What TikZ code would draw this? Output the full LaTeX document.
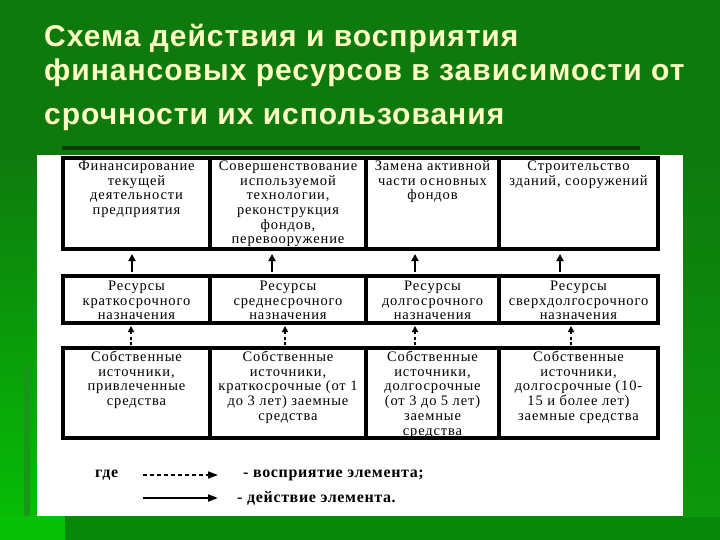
\documentclass[tikz,border=0pt]{standalone}
\usepackage{fontspec}
\setmainfont{Liberation Serif}
\newfontfamily\titlefont[LetterSpace=3.3]{Liberation Sans}
\newfontfamily\cellfont[LetterSpace=6]{Liberation Serif}
\newfontfamily\legfont[LetterSpace=4]{Liberation Serif}
\usetikzlibrary{arrows.meta}
\definecolor{bgtop}{RGB}{14,122,14}
\definecolor{bgleft}{RGB}{6,192,6}
\definecolor{bgband}{RGB}{24,150,24}
\definecolor{bgright}{RGB}{12,152,12}
\definecolor{bgbottom}{RGB}{8,136,8}
\definecolor{titleyellow}{RGB}{255,255,196}
\definecolor{shadowgreen}{RGB}{12,58,12}
\begin{document}
\begin{tikzpicture}[x=1pt,y=-1pt,
  cellbox/.style={rectangle, inner sep=0pt, outer sep=0pt, anchor=north west},
  celltext/.style={anchor=north, align=center, inner sep=0pt, font=\cellfont\fontsize{14.5}{14.7}\selectfont},
  border/.style={line width=3.6pt},
  act/.style={line width=2pt, -{Triangle[length=7pt,width=7pt]}, shorten <=4pt, shorten >=5pt},
  perc/.style={line width=1.6pt, dash pattern=on 3pt off 2.5pt, -{Triangle[length=6pt,width=6pt]}, shorten <=3pt, shorten >=3pt},
  legact/.style={line width=2pt, -{Triangle[length=10pt,width=7pt]}},
  legperc/.style={line width=1.6pt, dash pattern=on 4pt off 3pt, -{Triangle[length=10pt,width=7pt]}},
  legtext/.style={anchor=west, inner sep=0pt, font=\legfont\bfseries\fontsize{16}{18}\selectfont}
]
\useasboundingbox (0,0) rectangle (720,540);
% background
\fill[bgtop] (0,0) rectangle (720,540);
\shade[top color=bgtop, bottom color=bgleft] (0,150) rectangle (37,540);
\fill[bgband] (24,365) rectangle (30,540);
\fill[bgbottom] (65,516) rectangle (720,540);
\fill[bgleft] (0,516) rectangle (65,540);
\shade[top color=bgtop, bottom color=bgright] (683,150) rectangle (720,516);
\fill[shadowgreen] (62,146) rectangle (640,150);
\fill[white] (37,155) rectangle (683,516);

% title
\node[anchor=north west, inner sep=0pt, align=left, text=titleyellow,
      font=\titlefont\bfseries\fontsize{30}{34}\selectfont] (title) at (44,24)
  {Схема действия и восприятия\\финансовых ресурсов в зависимости от\\[10pt]срочности их использования};

% cells
\node[cellbox, minimum width=147pt, minimum height=91pt] (t1) at (63,158) {};
\node[cellbox, minimum width=156pt, minimum height=91pt] (t2) at (210,158) {};
\node[cellbox, minimum width=133pt, minimum height=91pt] (t3) at (366,158) {};
\node[cellbox, minimum width=159pt, minimum height=91pt] (t4) at (499,158) {};
\node[cellbox, minimum width=147pt, minimum height=47pt] (m1) at (63,276) {};
\node[cellbox, minimum width=156pt, minimum height=47pt] (m2) at (210,276) {};
\node[cellbox, minimum width=133pt, minimum height=47pt] (m3) at (366,276) {};
\node[cellbox, minimum width=159pt, minimum height=47pt] (m4) at (499,276) {};
\node[cellbox, minimum width=147pt, minimum height=90pt] (b1) at (63,348) {};
\node[cellbox, minimum width=156pt, minimum height=90pt] (b2) at (210,348) {};
\node[cellbox, minimum width=133pt, minimum height=90pt] (b3) at (366,348) {};
\node[cellbox, minimum width=159pt, minimum height=90pt] (b4) at (499,348) {};

% texts
\node[celltext] (t1x) at ([yshift=-2pt]t1.north) {\strut Финансирование\\текущей\\деятельности\\предприятия};
\node[celltext] (t2x) at ([yshift=-2pt]t2.north) {\strut Совершенствование\\используемой\\технологии,\\реконструкция\\фондов,\\перевооружение};
\node[celltext] (t3x) at ([yshift=-2pt]t3.north) {\strut Замена активной\\части основных\\фондов};
\node[celltext] (t4x) at ([yshift=-2pt]t4.north) {\strut Строительство\\зданий, сооружений};
\node[celltext] (m1x) at ([yshift=-4pt]m1.north) {\strut Ресурсы\\краткосрочного\\назначения};
\node[celltext] (m2x) at ([yshift=-4pt]m2.north) {\strut Ресурсы\\среднесрочного\\назначения};
\node[celltext] (m3x) at ([yshift=-4pt]m3.north) {\strut Ресурсы\\долгосрочного\\назначения};
\node[celltext] (m4x) at ([yshift=-4pt]m4.north) {\strut Ресурсы\\сверхдолгосрочного\\назначения};
\node[celltext] (b1x) at ([yshift=-3pt]b1.north) {\strut Собственные\\источники,\\привлеченные\\средства};
\node[celltext] (b2x) at ([yshift=-3pt]b2.north) {\strut Собственные\\источники,\\краткосрочные (от 1\\до 3 лет) заемные\\средства};
\node[celltext] (b3x) at ([yshift=-3pt]b3.north) {\strut Собственные\\источники,\\долгосрочные\\(от 3 до 5 лет)\\заемные\\средства};
\node[celltext] (b4x) at ([yshift=-3pt]b4.north) {\strut Собственные\\источники,\\долгосрочные (10-\\15 и более лет)\\заемные средства};

% borders
\foreach \c in {t1,t2,t3,t4,m1,m2,m3,m4,b1,b2,b3,b4}
  \draw[border] (\c.north west) rectangle (\c.south east);

% action arrows (middle -> top)
\draw[act] ([xshift=-4.5pt]m1.north) -- ([xshift=-4.5pt]t1.south);
\draw[act] ([xshift=-16pt]m2.north) -- ([xshift=-16pt]t2.south);
\draw[act] ([xshift=-17.5pt]m3.north) -- ([xshift=-17.5pt]t3.south);
\draw[act] ([xshift=-18.5pt]m4.north) -- ([xshift=-18.5pt]t4.south);
% perception arrows (bottom -> middle)
\draw[perc] ([xshift=-5.5pt]b1.north) -- ([xshift=-5.5pt]m1.south);
\draw[perc] ([xshift=-3pt]b2.north) -- ([xshift=-3pt]m2.south);
\draw[perc] ([xshift=-17.5pt]b3.north) -- ([xshift=-17.5pt]m3.south);
\draw[perc] ([xshift=-7.5pt]b4.north) -- ([xshift=-7.5pt]m4.south);

% legend
\node[legtext] (where) at (95,475) {где};
\coordinate (l1s) at (143,475);
\coordinate (l1e) at (218,475);
\coordinate (l2s) at (143,498);
\coordinate (l2e) at (218,498);
\draw[legperc] (l1s) -- (l1e);
\draw[legact] (l2s) -- (l2e);
\node[legtext] (perctext) at (243,475) {- восприятие элемента;};
\node[legtext] (acttext) at (237,498) {- действие элемента.};
\end{tikzpicture}
\end{document}
